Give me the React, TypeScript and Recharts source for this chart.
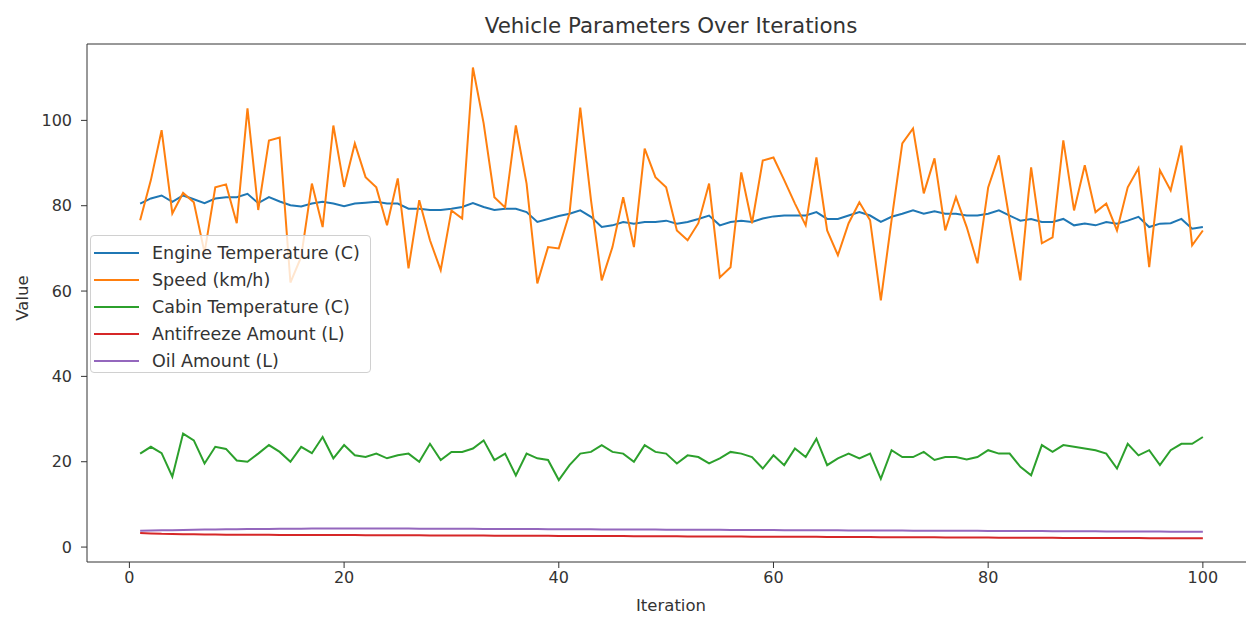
import React from 'react'
import { LineChart, Line, XAxis, YAxis, ReferenceLine } from 'recharts'

// Iterations 1..100
const iterations = [
    1, 2, 3, 4, 5, 6, 7, 8, 9, 10, 11, 12, 13, 14, 15, 16, 17, 18, 19, 20,
    21, 22, 23, 24, 25, 26, 27, 28, 29, 30, 31, 32, 33, 34, 35, 36, 37, 38, 39, 40,
    41, 42, 43, 44, 45, 46, 47, 48, 49, 50, 51, 52, 53, 54, 55, 56, 57, 58, 59, 60,
    61, 62, 63, 64, 65, 66, 67, 68, 69, 70, 71, 72, 73, 74, 75, 76, 77, 78, 79, 80,
    81, 82, 83, 84, 85, 86, 87, 88, 89, 90, 91, 92, 93, 94, 95, 96, 97, 98, 99, 100,
]

const engineTemp = [
    80.5, 81.7, 82.4, 80.9, 82.4, 81.5, 80.6, 81.7, 82.0, 82.0,
    82.8, 80.6, 82.0, 81.0, 80.1, 79.8, 80.5, 80.9, 80.5, 79.9,
    80.5, 80.7, 80.9, 80.5, 80.5, 79.3, 79.3, 79.0, 79.0, 79.3,
    79.7, 80.6, 79.7, 79.0, 79.3, 79.3, 78.5, 76.2, 76.9, 77.6,
    78.1, 78.9, 77.4, 75.0, 75.4, 76.2, 75.8, 76.2, 76.2, 76.5,
    75.8, 76.2, 76.9, 77.7, 75.4, 76.2, 76.5, 76.2, 77.0, 77.5,
    77.7, 77.7, 77.7, 78.5, 76.9, 76.9, 77.7, 78.5, 77.7, 76.2,
    77.4, 78.1, 78.9, 78.1, 78.7, 78.1, 78.1, 77.7, 77.7, 78.1,
    78.9, 77.7, 76.5, 76.9, 76.2, 76.2, 76.9, 75.4, 75.8, 75.4,
    76.2, 75.8, 76.5, 77.4, 75.0, 75.8, 75.9, 76.9, 74.6, 75.0,
]

const speed = [
    76.6, 86.0, 97.7, 78.2, 83.0, 80.8, 69.0, 84.3, 85.0, 75.9,
    102.8, 79.0, 95.3, 96.0, 62.0, 68.0, 85.2, 75.0, 98.8, 84.4,
    94.6, 86.7, 84.3, 75.4, 86.4, 65.3, 81.3, 71.9, 64.9, 78.9,
    77.0, 112.4, 99.3, 82.0, 79.6, 98.8, 85.2, 61.8, 70.3, 70.0,
    78.2, 103.0, 81.3, 62.5, 70.3, 82.0, 70.3, 93.4, 86.7, 84.3,
    74.2, 71.9, 75.9, 85.2, 63.2, 65.6, 87.8, 75.9, 90.6, 91.3,
    86.0, 80.5, 75.4, 91.3, 74.2, 68.4, 75.9, 80.8, 76.6, 57.8,
    76.6, 94.6, 98.1, 82.9, 91.1, 74.2, 82.0, 75.0, 66.5, 84.3,
    91.8, 76.6, 62.5, 89.0, 71.2, 72.6, 95.3, 78.9, 89.5, 78.5,
    80.5, 74.2, 84.3, 88.8, 65.6, 88.3, 83.6, 94.1, 70.7, 74.2,
]

const cabinTemp = [
    21.9, 23.5, 22.0, 16.5, 26.6, 25.0, 19.6, 23.5, 23.0, 20.3,
    20.0, 21.9, 23.9, 22.3, 20.0, 23.5, 22.0, 25.8, 20.8, 23.9,
    21.5, 21.1, 21.9, 20.8, 21.5, 21.9, 20.0, 24.2, 20.4, 22.3,
    22.3, 23.1, 25.0, 20.4, 21.9, 16.8, 21.9, 20.8, 20.4, 15.7,
    19.2, 21.9, 22.3, 23.9, 22.3, 21.9, 20.0, 23.9, 22.3, 21.9,
    19.6, 21.5, 21.1, 19.6, 20.8, 22.3, 21.9, 21.1, 18.4, 21.5,
    19.2, 23.1, 21.1, 25.4, 19.2, 20.8, 21.9, 20.8, 21.9, 16.0,
    22.7, 21.1, 21.1, 22.3, 20.4, 21.1, 21.1, 20.5, 21.1, 22.7,
    21.9, 21.9, 18.8, 16.8, 23.9, 22.3, 23.9, 23.5, 23.1, 22.7,
    21.9, 18.4, 24.2, 21.5, 22.7, 19.2, 22.7, 24.2, 24.2, 25.8,
]

const antifreeze = [
    3.3, 3.2, 3.1, 3.06, 3.0, 2.98, 2.96, 2.93, 2.91, 2.9,
    2.88, 2.87, 2.87, 2.85, 2.84, 2.84, 2.83, 2.82, 2.82, 2.8,
    2.8, 2.79, 2.78, 2.78, 2.76, 2.75, 2.75, 2.74, 2.72, 2.72,
    2.71, 2.7, 2.69, 2.68, 2.68, 2.66, 2.65, 2.64, 2.64, 2.62,
    2.61, 2.6, 2.6, 2.58, 2.57, 2.57, 2.55, 2.54, 2.53, 2.53,
    2.51, 2.5, 2.5, 2.48, 2.47, 2.46, 2.46, 2.44, 2.43, 2.42,
    2.42, 2.4, 2.39, 2.39, 2.37, 2.36, 2.35, 2.35, 2.33, 2.32,
    2.32, 2.3, 2.29, 2.28, 2.28, 2.26, 2.25, 2.25, 2.23, 2.22,
    2.21, 2.21, 2.19, 2.18, 2.18, 2.16, 2.15, 2.14, 2.14, 2.12,
    2.12, 2.11, 2.1, 2.1, 2.09, 2.08, 2.08, 2.07, 2.06, 2.06,
]

const oil = [
    3.8, 3.86, 3.92, 3.96, 4.0, 4.05, 4.09, 4.12, 4.15, 4.18,
    4.21, 4.23, 4.25, 4.28, 4.3, 4.31, 4.33, 4.34, 4.35, 4.36,
    4.36, 4.35, 4.35, 4.34, 4.33, 4.33, 4.31, 4.3, 4.3, 4.28,
    4.27, 4.27, 4.25, 4.24, 4.24, 4.22, 4.21, 4.21, 4.19, 4.18,
    4.17, 4.17, 4.15, 4.14, 4.14, 4.12, 4.11, 4.1, 4.1, 4.08,
    4.07, 4.07, 4.05, 4.04, 4.04, 4.02, 4.01, 4.0, 4.0, 3.98,
    3.97, 3.97, 3.95, 3.94, 3.94, 3.92, 3.91, 3.9, 3.9, 3.88,
    3.87, 3.87, 3.85, 3.84, 3.84, 3.82, 3.81, 3.8, 3.8, 3.78,
    3.77, 3.77, 3.75, 3.74, 3.74, 3.72, 3.71, 3.7, 3.7, 3.68,
    3.67, 3.67, 3.65, 3.64, 3.64, 3.62, 3.61, 3.6, 3.6, 3.58,
]

const xTicks = [0, 20, 40, 60, 80, 100]
const yTicks = [0, 20, 40, 60, 80, 100]

// axis limits (matplotlib 5% margins)
const X_DOMAIN = [-3.95, 104.95]
const Y_DOMAIN = [-3.5, 117.9]

// matplotlib tab10
const SERIES = [
    { key: 'engine', name: 'Engine Temperature (C)', color: '#1f77b4', values: engineTemp },
    { key: 'speed', name: 'Speed (km/h)', color: '#ff7f0e', values: speed },
    { key: 'cabin', name: 'Cabin Temperature (C)', color: '#2ca02c', values: cabinTemp },
    { key: 'antifreeze', name: 'Antifreeze Amount (L)', color: '#d62728', values: antifreeze },
    { key: 'oil', name: 'Oil Amount (L)', color: '#9467bd', values: oil },
]

const data = iterations.map((it, i) => {
    const row: Record<string, number> = { iteration: it }
    SERIES.forEach((s) => {
        row[s.key] = s.values[i]
    })
    return row
})

const FONT = '"DejaVu Sans", sans-serif'
const INK = '#333'

export default function App() {
    return (
        <div style={{ position: 'relative', width: 1246, height: 623, overflow: 'hidden', background: '#fff', fontFamily: FONT }}>
            <style>{'body{margin:0}'}</style>
            <LineChart width={1275} height={623} data={data} margin={{ top: 44, right: 19, bottom: 0, left: 0 }}>
                <XAxis
                    dataKey="iteration"
                    type="number"
                    domain={X_DOMAIN}
                    ticks={xTicks}
                    allowDataOverflow
                    height={61}
                    tickSize={6}
                    tickMargin={4}
                    stroke={INK}
                    tick={{ fontSize: 16, fill: INK, fontFamily: FONT }}
                />
                <YAxis
                    type="number"
                    domain={Y_DOMAIN}
                    ticks={yTicks}
                    allowDataOverflow
                    width={87}
                    tickSize={6}
                    tickMargin={9}
                    stroke={INK}
                    tick={{ fontSize: 16, fill: INK, fontFamily: FONT }}
                />
                {/* top and right spines */}
                <ReferenceLine y={Y_DOMAIN[1]} stroke={INK} strokeWidth={1} />
                <ReferenceLine x={X_DOMAIN[1]} stroke={INK} strokeWidth={1} />
                {SERIES.map((s) => (
                    <Line
                        key={s.key}
                        type="linear"
                        dataKey={s.key}
                        name={s.name}
                        stroke={s.color}
                        strokeWidth={2}
                        dot={false}
                        isAnimationActive={false}
                    />
                ))}
            </LineChart>

            <div style={{ position: 'absolute', left: 0, width: 1342, top: 13, textAlign: 'center', fontSize: 21.4, color: INK }}>
                Vehicle Parameters Over Iterations
            </div>
            <div style={{ position: 'absolute', left: 0, width: 1342, top: 596, textAlign: 'center', fontSize: 16.5, color: INK }}>
                Iteration
            </div>
            <div style={{ position: 'absolute', left: 22, top: 298, transform: 'translate(-50%, -50%) rotate(-90deg)', fontSize: 16.5, color: INK }}>
                Value
            </div>

            {/* legend */}
            <div
                style={{
                    position: 'absolute',
                    left: 90,
                    top: 235,
                    width: 281,
                    height: 138,
                    boxSizing: 'border-box',
                    border: '1px solid #d0d0d0',
                    borderRadius: 4,
                    background: 'rgba(255,255,255,0.8)',
                    paddingTop: 3,
                }}
            >
                {SERIES.map((s) => (
                    <div key={s.key} style={{ display: 'flex', alignItems: 'center', height: 27, fontSize: 17.5, color: INK }}>
                        <span style={{ display: 'inline-block', marginLeft: 3, width: 45, height: 2, background: s.color }} />
                        <span style={{ marginLeft: 13, whiteSpace: 'nowrap' }}>{s.name}</span>
                    </div>
                ))}
            </div>
        </div>
    )
}
